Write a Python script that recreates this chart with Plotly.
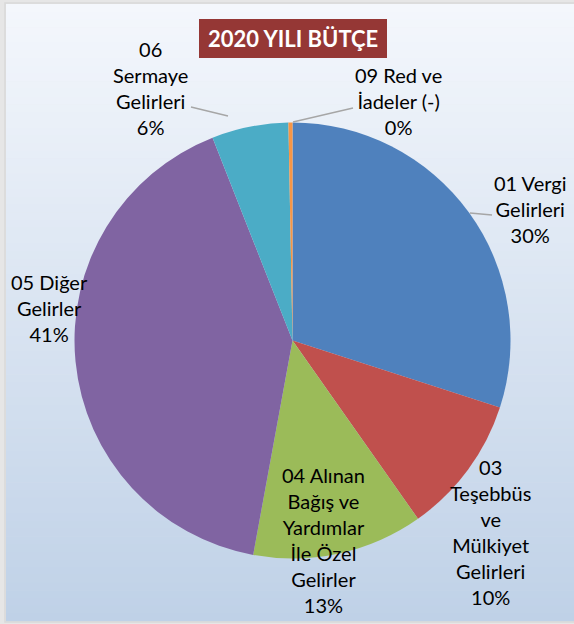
import plotly.graph_objects as go

W, H = 574, 624

# ---- data ----
labels = ["01 Vergi<br>Gelirleri",
          "03<br>Teşebbüs<br>ve<br>Mülkiyet<br>Gelirleri",
          "04 Alınan<br>Bağış ve<br>Yardımlar<br>İle Özel<br>Gelirler",
          "05 Diğer<br>Gelirler",
          "06<br>Sermaye<br>Gelirleri",
          "09 Red ve<br>İadeler (-)"]
values = [30.1, 10.3, 12.7, 41.3, 5.7, 0.3]
colors = ["#4F81BD", "#C0504D", "#9BBB59", "#8064A2", "#4BACC6", "#F79646"]
title_text = "2020 YILI BÜTÇE"

# label centre positions in pixels (layout only)
label_pos = [(530, 209), (490, 532), (323, 540), (49, 308), (150, 88), (398, 101)]


def px(x):
    return x / W


def py(y):
    return 1 - y / H


fig = go.Figure()

cx, cy, r = 292.5, 340.5, 218
fig.add_trace(go.Pie(
    labels=labels, values=values, sort=False, direction="clockwise", rotation=0,
    marker=dict(colors=colors, line=dict(width=0)),
    textinfo="none", hoverinfo="label+percent", showlegend=False,
    domain=dict(x=[px(cx - r), px(cx + r)], y=[py(cy + r), py(cy - r)]),
))

shapes = []
# gradient background
top = (0xF4, 0xF7, 0xFC)
bot = (0xBF, 0xD1, 0xE7)
x0b, y0b, x1b, y1b = 6, 4, 574, 621
N = 80
for i in range(N):
    t = (i + 0.5) / N
    c = tuple(round(top[k] + (bot[k] - top[k]) * t) for k in range(3))
    ya = y0b + (y1b - y0b) * i / N
    yb = y0b + (y1b - y0b) * (i + 1) / N + 0.6
    shapes.append(dict(type="rect", xref="paper", yref="paper", layer="below",
                       x0=px(x0b), x1=px(x1b), y0=py(yb), y1=py(ya),
                       fillcolor="rgb(%d,%d,%d)" % c, line=dict(width=0)))
# frame
shapes.append(dict(type="rect", xref="paper", yref="paper", layer="below",
                   x0=px(5), x1=px(575), y0=py(622), y1=py(3),
                   fillcolor="rgba(0,0,0,0)", line=dict(color="#D9D9D9", width=1.5)))
# title box
shapes.append(dict(type="rect", xref="paper", yref="paper", layer="above",
                   x0=px(199), x1=px(387), y0=py(58), y1=py(19),
                   fillcolor="#953735", line=dict(width=0)))
# leader lines
for (a, b, c2, d) in [(191, 107, 228, 116), (293, 122, 353, 108), (470, 213, 492, 215)]:
    shapes.append(dict(type="line", xref="paper", yref="paper", layer="above",
                       x0=px(a), y0=py(b), x1=px(c2), y1=py(d),
                       line=dict(color="#A6A6A6", width=1.3)))

total = sum(values)
annotations = []
for lab, v, (lx, ly) in zip(labels, values, label_pos):
    pct = round(v / total * 100)
    annotations.append(dict(
        text=f"{lab}<br>{pct}%", x=px(lx), y=py(ly), xref="paper", yref="paper",
        xanchor="center", yanchor="middle", showarrow=False, align="center",
        font=dict(family="Lato", size=20, color="#000000")))
annotations.append(dict(
    text=f"<b>{title_text}</b>", x=px(293), y=py(38.5), xref="paper", yref="paper",
    xanchor="center", yanchor="middle", showarrow=False,
    font=dict(family="Lato", size=22, color="#FFFFFF")))

fig.update_layout(
    width=W, height=H, margin=dict(l=0, r=0, t=0, b=0),
    paper_bgcolor="#E6E6E6", plot_bgcolor="rgba(0,0,0,0)",
    shapes=shapes, annotations=annotations,
)

fig.write_html("out.html", config={"displayModeBar": False},
               post_script="document.body.style.margin='0';document.body.style.overflow='hidden';")
